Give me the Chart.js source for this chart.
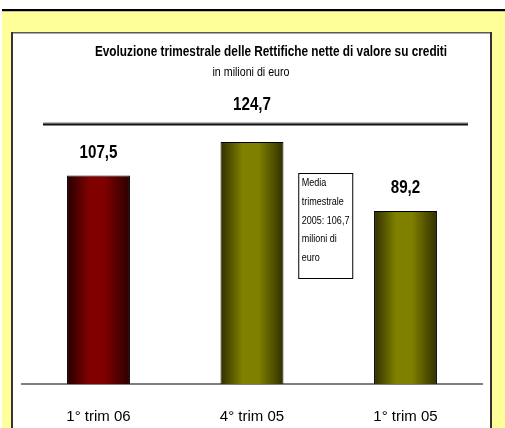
<!DOCTYPE html>
<html>
<head>
<meta charset="utf-8">
<script src="https://cdn.jsdelivr.net/npm/chart.js@4.4.0/dist/chart.umd.min.js"></script>
<style>
html,body{margin:0;padding:0;background:#fff;}
#wrap{position:relative;width:505px;height:428px;}
canvas{display:block;}
</style>
</head>
<body>
<div id="wrap"><canvas id="c" width="505" height="428"></canvas></div>
<script>
const categories = ['1° trim 06', '4° trim 05', '1° trim 05'];
const values = [107.5, 124.7, 89.2];
const barColors = [['#250000', '#800000', '#2a0000'], ['#303000', '#808000', '#303000'], ['#303000', '#808000', '#303000']];
const titleText = 'Evoluzione trimestrale delle Rettifiche nette di valore su crediti';
const subtitleText = 'in milioni di euro';
const noteLines = ['Media', 'trimestrale', '2005: 106,7', 'milioni di', 'euro'];
const yMax = 140;

const FONT = "'Liberation Sans', Arial, sans-serif";
const NARROW = 0.82;
const fmt = v => v.toFixed(1).replace('.', ',');

function narrowText(ctx, text, x, y, align, font) {
  ctx.save();
  ctx.font = font;
  ctx.textAlign = align;
  ctx.textBaseline = 'middle';
  ctx.translate(x, y);
  ctx.scale(NARROW, 1);
  ctx.fillText(text, 0, 0);
  ctx.restore();
}

const decor = {
  id: 'decor',
  beforeDraw(chart) {
    const ctx = chart.ctx;
    ctx.save();
    ctx.fillStyle = '#ffffff';
    ctx.fillRect(0, 0, 505, 428);
    ctx.fillStyle = '#000000';
    ctx.fillRect(2, 9, 503, 2.5);
    ctx.fillStyle = '#FFFF99';
    ctx.fillRect(2, 11.5, 503, 417);
    ctx.fillStyle = '#ffffff';
    ctx.fillRect(11, 32, 481, 396);
    ctx.fillStyle = '#5a5a5a';
    ctx.fillRect(11, 32, 481, 1.5);
    ctx.fillStyle = '#333333';
    ctx.fillRect(11, 32, 2, 396);
    ctx.fillRect(490, 32, 2, 396);
    ctx.fillStyle = '#000';
    narrowText(ctx, titleText, 271, 52, 'center', "bold 14.4px " + FONT);
    narrowText(ctx, subtitleText, 251, 72, 'center', "13px " + FONT);
    ctx.fillStyle = '#777';
    ctx.fillRect(43, 122.5, 425, 1);
    ctx.fillStyle = '#111';
    ctx.fillRect(43, 123.5, 425, 2);
    ctx.restore();
  },
  afterDatasetsDraw(chart) {
    const ctx = chart.ctx;
    const meta = chart.getDatasetMeta(0);
    const maxV = Math.max(...values);
    ctx.save();
    ctx.fillStyle = '#000';
    meta.data.forEach((el, i) => {
      let y = el.y - 23;
      if (values[i] === maxV) y = 104.5;
      narrowText(ctx, fmt(values[i]), el.x, y, 'center', "bold 18.5px " + FONT);
    });
    const x1 = meta.data[1].x, x2 = meta.data[2].x;
    const mid = (x1 + x2) / 2;
    const bx = mid - 30.5, by = 173, bw = 54, bh = 105;
    ctx.fillStyle = '#fff';
    ctx.fillRect(bx, by, bw, bh);
    ctx.strokeStyle = '#000';
    ctx.lineWidth = 1;
    ctx.strokeRect(bx + 0.5, by + 0.5, bw, bh);
    ctx.fillStyle = '#000';
    noteLines.forEach((t, i) => narrowText(ctx, t, bx + 3.5, 183 + i * 18.8, 'left', "11px " + FONT));
    ctx.restore();
  }
};

function barGradient(context) {
  const chart = context.chart;
  const area = chart.chartArea;
  const cols = barColors[context.dataIndex] || barColors[0];
  if (!area) return cols[1];
  const xs = chart.scales.x;
  const cx = xs.getPixelForValue(context.dataIndex);
  const w = (area.width / categories.length) * 0.41;
  const g = chart.ctx.createLinearGradient(cx - w / 2, 0, cx + w / 2, 0);
  g.addColorStop(0, cols[0]);
  g.addColorStop(0.35, cols[1]);
  g.addColorStop(0.6, cols[1]);
  g.addColorStop(1, cols[2]);
  return g;
}

new Chart(document.getElementById('c'), {
  type: 'bar',
  data: {
    labels: categories,
    datasets: [{
      data: values,
      backgroundColor: barGradient,
      borderColor: '#000',
      borderWidth: 1,
      barPercentage: 0.41,
      categoryPercentage: 1.0
    }]
  },
  plugins: [decor],
  options: {
    responsive: false,
    animation: false,
    events: [],
    layout: { padding: { left: 21.75, right: 22.75, top: 112.4, bottom: 2.6 } },
    plugins: { legend: { display: false }, title: { display: false }, tooltip: { enabled: false } },
    scales: {
      x: {
        grid: { display: false, drawTicks: false },
        border: { display: true, color: '#808080', width: 2 },
        ticks: { color: '#000', padding: 24, font: { family: FONT, size: 15 } },
        afterFit(scale) { scale.height = 41.4; }
      },
      y: {
        display: false,
        min: 0,
        max: yMax
      }
    }
  }
});
</script>
</body>
</html>
